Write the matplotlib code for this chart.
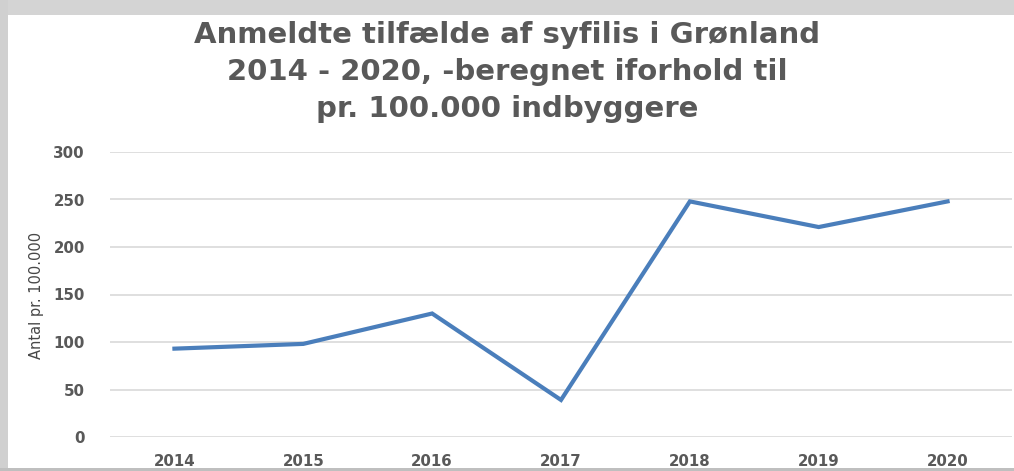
import matplotlib

matplotlib.use("Agg")
import matplotlib.pyplot as plt
from matplotlib.patches import Rectangle

# data
years = ["2014", "2015", "2016", "2017", "2018", "2019", "2020"]
cases = [93, 98, 130, 39, 248, 221, 248]
y_ticks = [0, 50, 100, 150, 200, 250, 300]

title = "Anmeldte tilfælde af syfilis i Grønland\n2014 - 2020, -beregnet iforhold til\npr. 100.000 indbyggere"
y_label = "Antal pr. 100.000"

text_grey = "#595959"
line_blue = "#4a7ebb"

fig = plt.figure(figsize=(10.14, 4.71), dpi=100, facecolor="white")

# shadow frame around the pasted chart
fig.patches.append(Rectangle((0, 1 - 15 / 471), 1, 15 / 471, transform=fig.transFigure,
                             facecolor="#d4d4d4", edgecolor="none", zorder=0))
fig.patches.append(Rectangle((0, 0), 8 / 1014, 1, transform=fig.transFigure,
                             facecolor="#d0d0d0", edgecolor="none", zorder=0))
fig.patches.append(Rectangle((0, 0), 1, 3 / 471, transform=fig.transFigure,
                             facecolor="#bfbfbf", edgecolor="none", zorder=0))

ax = fig.add_axes([110 / 1014, 1 - 437 / 471, 902 / 1014, 285 / 471])
x = range(len(years))
ax.plot(x, cases, color=line_blue, linewidth=3, solid_joinstyle="miter", zorder=3)

ax.set_xlim(-0.5, len(years) - 0.5)
ax.set_ylim(0, 300)
ax.set_yticks(y_ticks)
ax.set_xticks(list(x))
ax.set_xticklabels(years)
ax.grid(axis="y", color="#d9d9d9", linewidth=1.2)
ax.set_axisbelow(True)
for side in ["top", "right", "left", "bottom"]:
    ax.spines[side].set_visible(False)
ax.tick_params(axis="both", length=0, colors=text_grey)
ax.tick_params(axis="y", pad=18)
ax.tick_params(axis="x", pad=12)
for lbl in ax.get_xticklabels() + ax.get_yticklabels():
    lbl.set_fontweight("bold")
    lbl.set_fontsize(10.8)
    lbl.set_family("DejaVu Sans")

fig.text(36 / 1014, 1 - 295 / 471, y_label, rotation=90, ha="center", va="center",
         fontsize=10.5, color="#474747", family="Liberation Sans Narrow")

fig.text(0.5, 1 - 72 / 471, title, ha="center", va="center", fontsize=21,
         color=text_grey, family="DejaVu Sans", fontweight="bold", linespacing=1.42)

fig.savefig("out.png", dpi=100, facecolor=fig.get_facecolor())
